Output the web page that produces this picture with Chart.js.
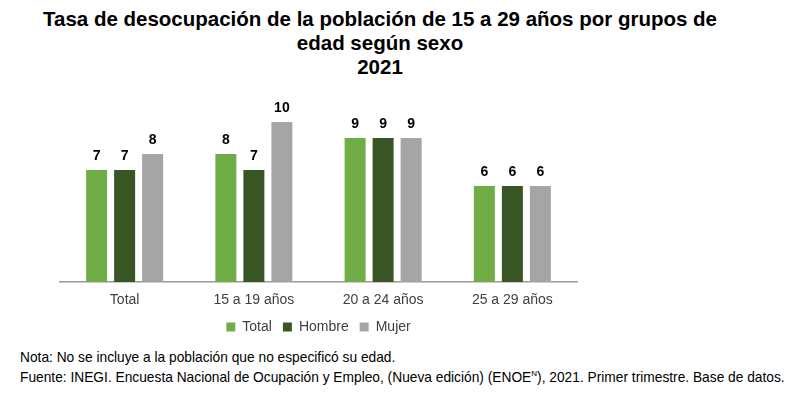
<!DOCTYPE html>
<html>
<head>
<meta charset="utf-8">
<script src="https://cdn.jsdelivr.net/npm/chart.js@4.4.0/dist/chart.umd.min.js"></script>
<style>
  html, body { margin: 0; padding: 0; background: #fff; }
  body { width: 797px; height: 399px; position: relative; overflow: hidden; font-family: 'Liberation Sans', Arial, sans-serif; }
  #title { position: absolute; top: 7px; left: 0; width: 760px; text-align: center; font-weight: bold; font-size: 20.5px; line-height: 24px; color: #000; }
  #chartWrap { position: absolute; top: 0; left: 0; width: 797px; height: 344px; }
  #notes { position: absolute; left: 20px; top: 348px; font-size: 13.75px; line-height: 20px; color: #000; white-space: nowrap; }
</style>
</head>
<body>
<div id="title">Tasa de desocupación de la población de 15 a 29 años por grupos de<br>edad según sexo<br>2021</div>
<div id="chartWrap"><canvas id="c" width="797" height="344"></canvas></div>
<div id="notes">Nota: No se incluye a la población que no especificó su edad.<br>Fuente: INEGI. Encuesta Nacional de Ocupación y Empleo, (Nueva edición) (ENOE<sup style="font-size:8px;line-height:0">N</sup>), 2021. Primer trimestre. Base de datos.</div>
<script>
const categories = ['Total', '15 a 19 años', '20 a 24 años', '25 a 29 años'];
const seriesNames = ['Total', 'Hombre', 'Mujer'];
const totalValues = [7, 8, 9, 6];
const hombreValues = [7, 7, 9, 6];
const mujerValues = [8, 10, 9, 6];
const seriesColors = ['#70AD47', '#375623', '#A5A5A5'];

const valueLabels = {
  id: 'valueLabels',
  afterDatasetsDraw(chart) {
    const ctx = chart.ctx;
    ctx.save();
    ctx.font = 'bold 14px "Liberation Sans", Arial, sans-serif';
    ctx.fillStyle = '#000';
    ctx.textAlign = 'center';
    ctx.textBaseline = 'bottom';
    chart.data.datasets.forEach((ds, i) => {
      const meta = chart.getDatasetMeta(i);
      meta.data.forEach((el, j) => {
        ctx.fillText(String(ds.data[j]), el.x, el.y - 7);
      });
    });
    ctx.restore();
  }
};

const seriesData = [totalValues, hombreValues, mujerValues];
new Chart(document.getElementById('c'), {
  type: 'bar',
  data: {
    labels: categories,
    datasets: seriesNames.map((name, i) => ({
      label: name,
      data: seriesData[i],
      backgroundColor: seriesColors[i],
      borderWidth: 0,
      categoryPercentage: 0.65,
      barPercentage: 0.75
    }))
  },
  options: {
    responsive: false,
    animation: false,
    layout: { padding: { left: 60, right: 220, top: 90, bottom: 0 } },
    plugins: {
      title: { display: false },
      tooltip: { enabled: false },
      legend: {
        display: true,
        position: 'bottom',
        labels: {
          boxWidth: 9,
          boxHeight: 9,
          padding: 11,
          color: '#404040',
          font: { size: 14, family: '"Liberation Sans", Arial, sans-serif' }
        }
      }
    },
    scales: {
      x: {
        grid: { display: false, drawTicks: false },
        border: { display: true, color: '#999999', width: 1.5 },
        ticks: { color: '#404040', padding: 10, font: { size: 14, family: '"Liberation Sans", Arial, sans-serif' } },
        afterFit(scale) { scale.height = 27; }
      },
      y: {
        display: false,
        min: 0,
        max: 12
      }
    }
  },
  plugins: [valueLabels]
});
</script>
</body>
</html>
